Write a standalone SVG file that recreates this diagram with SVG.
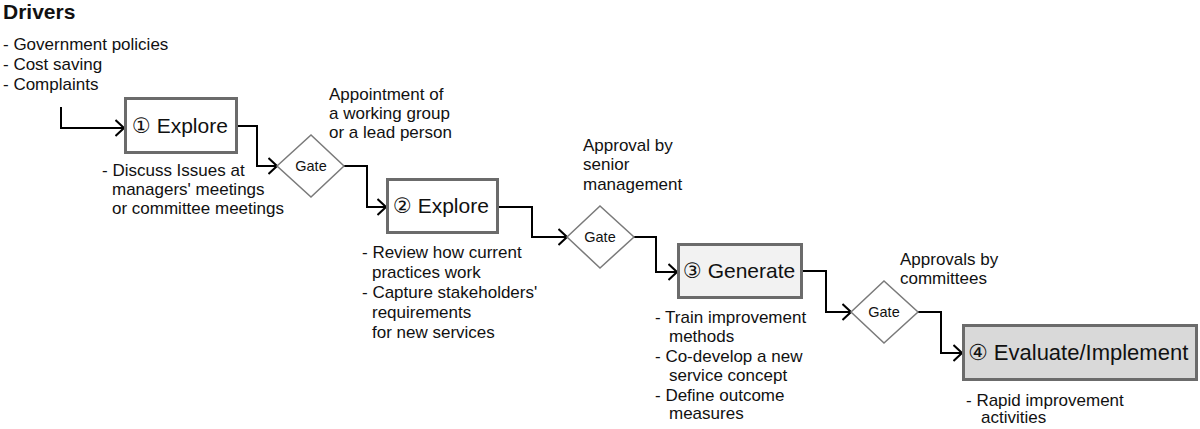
<svg xmlns="http://www.w3.org/2000/svg" width="1200" height="429" viewBox="0 0 1200 429">
<defs>
<style>
text{font-family:"Liberation Sans","DejaVu Sans","Noto Sans CJK JP",sans-serif;fill:#111}
.t{font-size:17px}
.h{font-size:21px;font-weight:bold}
.b{font-size:21px}
.g{font-size:14.5px;text-anchor:middle}
.box{stroke:#6b6b6b;stroke-width:3}
.gate{fill:#fff;stroke:#7a7a7a;stroke-width:1.5}
.c{fill:none;stroke:#000;stroke-width:2;marker-end:url(#arr)}
</style>
<marker id="arr" viewBox="0 0 10 18" refX="9.5" refY="9" markerWidth="10" markerHeight="18" markerUnits="userSpaceOnUse" orient="auto">
<path d="M1,1 L9.5,9 L1,17" fill="none" stroke="#000" stroke-width="2"/>
</marker>
</defs>
<rect width="1200" height="429" fill="#fff"/>

<g id="drivers">
<text class="h" x="3" y="19">Drivers</text>
<text class="t" x="3" y="50">- Government policies</text>
<text class="t" x="3" y="70">- Cost saving</text>
<text class="t" x="3" y="90">- Complaints</text>
</g>

<g id="connectors">
<path class="c" d="M61,107 V128 H124"/>
<path class="c" d="M238,126 H257 V166 H277"/>
<path class="c" d="M344,166 H367 V207 H386"/>
<path class="c" d="M499,207 H532 V237 H567"/>
<path class="c" d="M634,237 H656 V272 H677"/>
<path class="c" d="M803,271 H826 V312 H851"/>
<path class="c" d="M918,312 H941 V353 H962"/>
</g>

<g id="explore1">
<rect class="box" x="125.5" y="98.5" width="111" height="54" fill="#fff"/>
<text class="b" x="132" y="133">① Explore</text>
<text class="t" x="102" y="176">- Discuss Issues at</text>
<text class="t" x="112" y="195">managers' meetings</text>
<text class="t" x="112" y="214">or committee meetings</text>
</g>

<g id="gate1">
<polygon class="gate" points="277,166 311,135 344,166 311,197"/>
<text class="g" x="311" y="171">Gate</text>
<text class="t" x="329" y="100">Appointment of</text>
<text class="t" x="329" y="119">a working group</text>
<text class="t" x="329" y="138">or a lead person</text>
</g>

<g id="explore2">
<rect class="box" x="387.5" y="179.5" width="110" height="53" fill="#fff"/>
<text class="b" x="393" y="213">② Explore</text>
<text class="t" x="362" y="258">- Review how current</text>
<text class="t" x="372" y="278">practices work</text>
<text class="t" x="362" y="298">- Capture stakeholders'</text>
<text class="t" x="372" y="318">requirements</text>
<text class="t" x="372" y="338">for new services</text>
</g>

<g id="gate2">
<polygon class="gate" points="567,237 600,206 634,237 600,268"/>
<text class="g" x="600" y="242">Gate</text>
<text class="t" x="583" y="151">Approval by</text>
<text class="t" x="583" y="170">senior</text>
<text class="t" x="583" y="190">management</text>
</g>

<g id="generate">
<rect class="box" x="678.5" y="244.5" width="123" height="53" fill="#f2f2f2"/>
<text class="b" x="683" y="278">③ Generate</text>
<text class="t" x="655" y="323">- Train improvement</text>
<text class="t" x="669" y="342">methods</text>
<text class="t" x="655" y="362">- Co-develop a new</text>
<text class="t" x="669" y="381">service concept</text>
<text class="t" x="655" y="401">- Define outcome</text>
<text class="t" x="669" y="419">measures</text>
</g>

<g id="gate3">
<polygon class="gate" points="851,312 884,281 918,312 884,343"/>
<text class="g" x="884" y="317">Gate</text>
<text class="t" x="900" y="265">Approvals by</text>
<text class="t" x="900" y="284">committees</text>
</g>

<g id="evaluate">
<rect class="box" x="963.5" y="325.5" width="233" height="54" fill="#d9d9d9"/>
<text class="b" x="968" y="360" style="font-size:22px">④ Evaluate/Implement</text>
<text class="t" x="966" y="406">- Rapid improvement</text>
<text class="t" x="981" y="423">activities</text>
</g>
</svg>
